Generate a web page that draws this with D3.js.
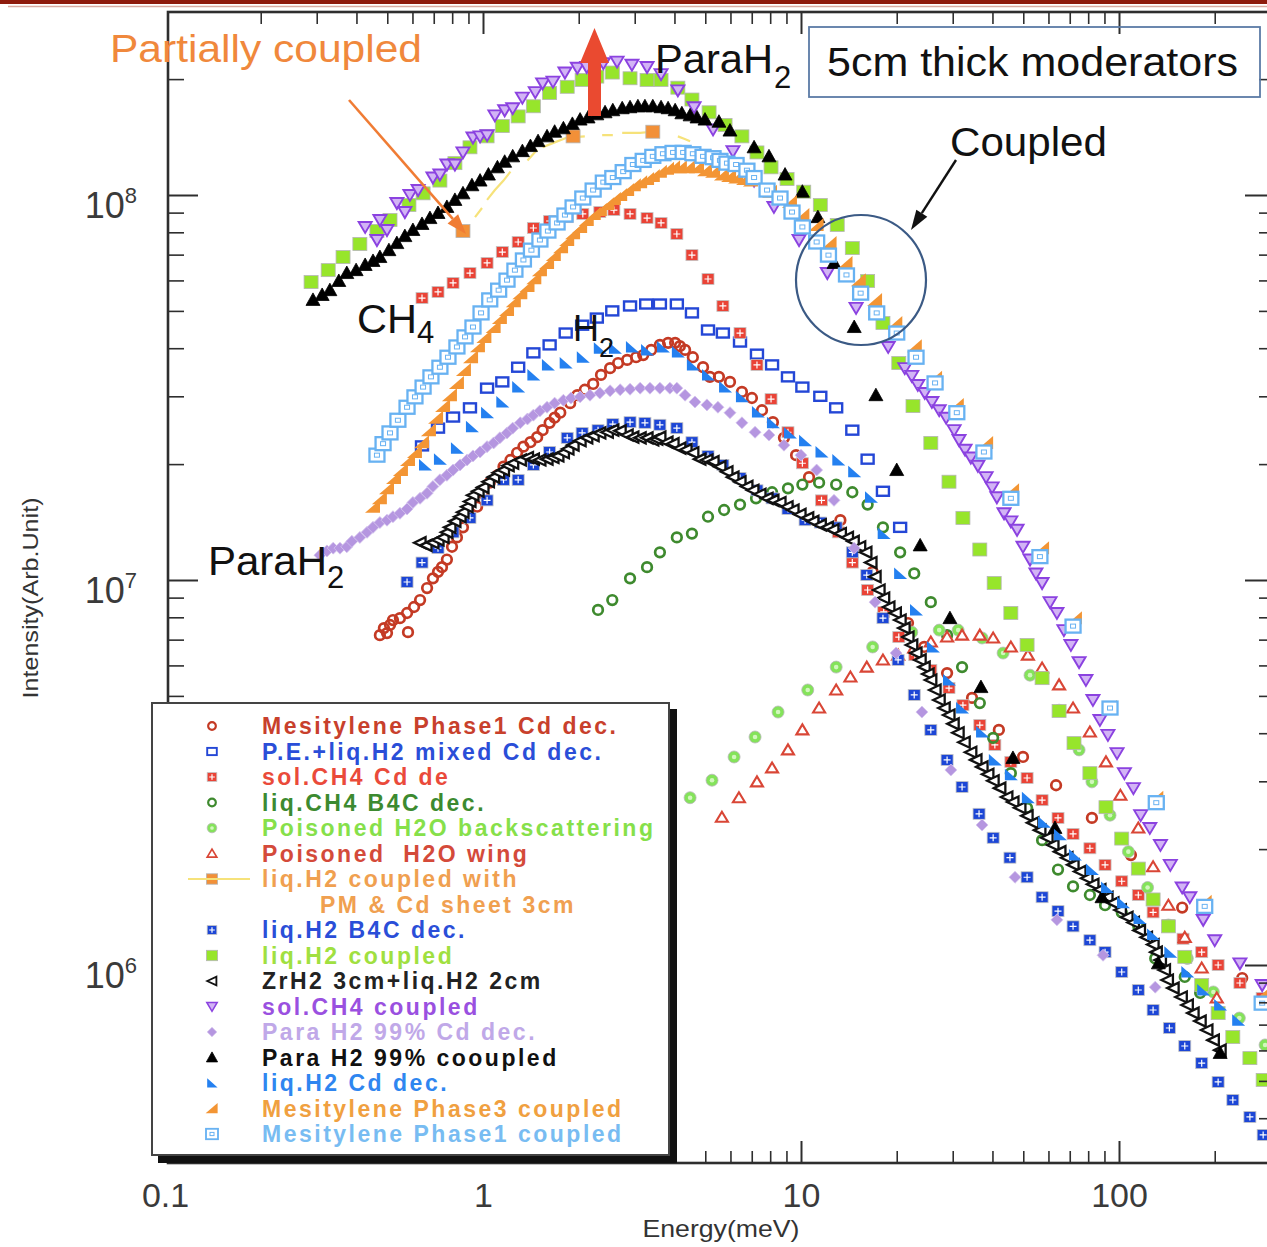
<!DOCTYPE html>
<html>
<head>
<meta charset="utf-8">
<title>Neutron spectra of 5cm thick moderators</title>
<script src="https://cdn.jsdelivr.net/npm/d3@7/dist/d3.min.js"></script>
<style>
  html, body { margin: 0; padding: 0; background: #fff; }
  svg { display: block; }
  text { font-family: "Liberation Sans", Arial, sans-serif; }
</style>
</head>
<body>
<svg id="chart" width="1267" height="1247"></svg>
<script>
// ---------------- data: [energy (meV), intensity (arb. unit)] ----------------
const mesitylenePhase1Cd = [[0.474,7.19e6],[0.488,7.50e6],[0.499,7.28e6],[0.510,7.64e6],[0.521,7.87e6],[0.548,7.96e6],[0.577,8.21e6],[0.581,7.32e6],[0.607,8.51e6],[0.634,8.87e6],[0.667,9.53e6],[0.696,1.01e7],[0.722,1.05e7],[0.743,1.08e7],[0.770,1.13e7],[0.799,1.22e7],[0.828,1.29e7],[0.865,1.37e7],[0.910,1.46e7],[0.958,1.55e7],[1.00,1.68e7],[1.05,1.79e7],[1.11,1.87e7],[1.16,1.97e7],[1.22,2.05e7],[1.28,2.14e7],[1.34,2.22e7],[1.41,2.28e7],[1.48,2.35e7],[1.54,2.45e7],[1.62,2.56e7],[1.68,2.64e7],[1.75,2.72e7],[1.88,2.88e7],[1.98,3.02e7],[2.09,3.12e7],[2.22,3.23e7],[2.35,3.41e7],[2.51,3.55e7],[2.66,3.66e7],[2.84,3.73e7],[3.03,3.79e7],[3.19,3.84e7],[3.38,3.96e7],[3.60,4.08e7],[3.82,4.13e7],[4.02,4.13e7],[4.16,4.05e7],[4.32,3.96e7],[4.57,3.79e7],[4.92,3.57e7],[5.17,3.37e7],[5.52,3.37e7],[5.98,3.27e7],[6.52,3.08e7],[7.01,2.97e7],[7.54,2.76e7],[8.16,2.57e7],[8.84,2.34e7],[9.65,2.11e7],[10.6,1.85e7],[13.3,1.43e7],[16.8,1.05e7],[21.7,7.73e6],[24.4,6.70e6],[28.8,5.73e6],[34.5,4.94e6],[41.9,4.08e6],[49.9,3.47e6],[63.4,2.93e6],[82.2,2.41e6],[109,1.93e6],[158,1.41e6],[244,9.25e5]];

const peLiqH2MixedCd = [[0.643,2.23e7],[0.722,2.48e7],[0.805,2.65e7],[0.910,2.80e7],[1.03,3.15e7],[1.15,3.27e7],[1.29,3.57e7],[1.44,3.89e7],[1.62,4.08e7],[1.82,4.38e7],[2.05,4.59e7],[2.28,4.79e7],[2.55,5.00e7],[2.90,5.15e7],[3.26,5.21e7],[3.60,5.21e7],[4.07,5.21e7],[4.54,4.94e7],[5.10,4.46e7],[5.68,4.38e7],[6.43,4.15e7],[7.27,3.86e7],[8.11,3.62e7],[9.10,3.37e7],[10.1,3.17e7],[11.5,3.00e7],[12.9,2.80e7],[14.5,2.45e7],[16.2,2.06e7],[18.1,1.70e7],[20.5,1.37e7]];

const solCH4Cd = [[0.643,5.40e7],[0.722,5.60e7],[0.805,5.91e7],[0.910,6.27e7],[1.03,6.66e7],[1.15,7.11e7],[1.29,7.55e7],[1.44,8.21e7],[1.62,8.56e7],[1.84,8.76e7],[2.06,8.93e7],[2.33,9.03e7],[2.58,9.14e7],[2.90,8.93e7],[3.28,8.71e7],[3.63,8.46e7],[4.07,7.92e7],[4.54,6.98e7],[5.10,6.05e7],[5.68,5.15e7],[6.43,4.38e7],[7.27,3.62e7],[8.05,2.95e7],[9.10,2.42e7],[10.1,2.01e7],[11.6,1.61e7],[13.1,1.33e7],[14.5,1.11e7],[16.2,9.42e6],[18.2,8.26e6],[20.3,7.11e6],[22.8,6.38e6],[25.6,5.84e6],[29.2,5.24e6],[32.3,4.73e6],[36.5,4.20e6],[40.7,3.73e6],[45.7,3.37e6],[51.4,3.06e6],[57.3,2.68e6],[64.3,2.41e6],[71.7,2.19e6],[81.0,2.01e6],[90.4,1.82e6],[102,1.65e6],[115,1.52e6],[128,1.37e6],[143,1.27e6],[159,1.17e6],[182,1.08e6],[205,1.00e6],[240,8.98e5],[282,8.21e5]];

const liqCH4B4C = [[2.30,8.36e6],[2.55,8.87e6],[2.90,1.01e7],[3.28,1.08e7],[3.60,1.18e7],[4.07,1.29e7],[4.54,1.32e7],[5.10,1.46e7],[5.73,1.52e7],[6.43,1.57e7],[7.22,1.63e7],[8.11,1.69e7],[9.10,1.73e7],[10.1,1.77e7],[11.4,1.79e7],[12.9,1.77e7],[14.5,1.69e7],[16.2,1.57e7],[18.1,1.37e7],[20.5,1.18e7],[22.7,1.04e7],[25.6,8.76e6],[28.8,7.19e6],[32.1,5.94e6],[36.5,4.79e6],[40.2,3.89e6],[45.7,3.15e6],[51.4,2.56e6],[57.3,2.11e6],[64.3,1.77e6],[71.7,1.60e6],[81.0,1.52e6],[90.4,1.43e6],[102,1.37e6],[115,1.26e6],[130,1.04e6],[161,9.31e5],[180,8.46e5]];

const poisonedH2OBack = [[4.48,2.72e6],[5.25,3.02e6],[6.16,3.47e6],[7.17,3.91e6],[8.47,4.54e6],[10.5,5.18e6],[12.9,5.94e6],[16.8,6.70e6],[22.3,7.32e6],[27.2,7.41e6],[31.2,7.41e6],[37.1,7.07e6],[43.2,6.46e6],[52.5,5.66e6],[64.8,4.59e6],[74.9,3.62e6],[82.2,2.99e6],[93.7,2.45e6],[107,1.97e6],[123,1.59e6],[143,1.27e6],[164,1.04e6],[198,8.51e5],[239,7.28e5],[288,6.20e5]];

const poisonedH2OWing = [[5.64,2.42e6],[6.38,2.72e6],[7.27,2.99e6],[8.11,3.25e6],[9.10,3.62e6],[10.1,4.08e6],[11.4,4.65e6],[12.9,5.18e6],[14.3,5.60e6],[16.1,5.94e6],[18.1,6.20e6],[20.2,6.38e6],[22.7,6.66e6],[25.6,6.90e6],[28.8,7.11e6],[32.1,7.19e6],[36.5,7.19e6],[40.2,7.07e6],[45.7,6.70e6],[51.7,6.38e6],[57.3,5.91e6],[64.8,5.34e6],[71.7,4.65e6],[81.0,4.03e6],[91.0,3.37e6],[101,2.76e6],[115,2.27e6],[128,1.80e6],[143,1.43e6],[161,1.18e6],[182,9.82e5],[203,8.21e5]];

// liq.H2 coupled with PM & Cd sheet: marked points and the (broken) trace
const liqH2PMCdPoints = [[0.865,8.06e7],[1.92,1.42e8],[3.42,1.46e8]];
const liqH2PMCdTrace = [[0.944,8.76e7],[0.993,9.25e7],null,[1.03,9.71e7],[1.09,1.03e8],[1.16,1.09e8],[1.22,1.15e8],null,[1.38,1.23e8],[1.48,1.31e8],null,[1.54,1.33e8],[1.68,1.37e8],[1.84,1.41e8],[2.09,1.42e8],null,[2.37,1.43e8],[2.56,1.43e8],null,[2.74,1.45e8],[3.12,1.45e8],[3.40,1.46e8],null,[4.10,1.42e8],[4.29,1.40e8],[4.48,1.38e8]];

const liqH2B4C = [[0.577,9.88e6],[0.643,1.11e7],[0.722,1.21e7],[0.805,1.33e7],[0.910,1.45e7],[1.03,1.61e7],[1.16,1.82e7],[1.29,1.82e7],[1.44,1.99e7],[1.62,2.15e7],[1.84,2.34e7],[2.05,2.41e7],[2.30,2.45e7],[2.56,2.54e7],[2.90,2.57e7],[3.23,2.56e7],[3.60,2.53e7],[4.07,2.48e7],[4.54,2.28e7],[5.10,2.10e7],[5.68,1.99e7],[6.43,1.84e7],[7.27,1.71e7],[8.11,1.63e7],[9.10,1.53e7],[10.3,1.43e7],[11.5,1.41e7],[12.9,1.37e7],[14.5,1.18e7],[16.1,1.03e7],[18.1,7.96e6],[20.2,6.20e6],[22.7,5.03e6],[25.6,4.08e6],[28.8,3.41e6],[32.1,2.90e6],[36.3,2.47e6],[40.2,2.14e6],[45.4,1.90e6],[51.4,1.69e6],[57.3,1.50e6],[64.3,1.38e6],[71.7,1.26e6],[81.0,1.16e6],[90.4,1.08e6],[102,9.59e5],[115,8.61e5],[128,7.64e5],[144,6.86e5],[161,6.16e5],[182,5.56e5],[205,4.97e5],[228,4.46e5],[258,4.03e5],[284,3.62e5]];

const liqH2Coupled = [[0.288,5.94e7],[0.326,6.38e7],[0.363,6.90e7],[0.410,7.46e7],[0.464,8.06e7],[0.510,8.61e7],[0.585,9.42e7],[0.648,1.01e8],[0.732,1.09e8],[0.816,1.21e8],[0.910,1.33e8],[1.03,1.42e8],[1.15,1.51e8],[1.29,1.60e8],[1.44,1.70e8],[1.62,1.84e8],[1.84,1.91e8],[2.05,1.99e8],[2.28,2.03e8],[2.55,2.08e8],[2.90,2.01e8],[3.28,1.99e8],[3.63,1.99e8],[4.10,1.90e8],[4.54,1.77e8],[5.14,1.64e8],[5.77,1.52e8],[6.52,1.42e8],[7.27,1.29e8],[8.05,1.18e8],[9.04,1.10e8],[10.2,1.02e8],[11.5,9.42e7],[13.0,8.36e7],[14.5,7.28e7],[16.2,5.98e7],[18.1,4.65e7],[20.3,3.66e7],[22.5,2.83e7],[25.6,2.27e7],[29.2,1.80e7],[32.3,1.45e7],[36.5,1.20e7],[40.5,9.82e6],[45.7,8.21e6],[51.4,6.78e6],[57.3,5.56e6],[64.8,4.57e6],[72.2,3.77e6],[81.0,3.15e6],[91.0,2.57e6],[102,2.13e6],[115,1.78e6],[128,1.48e6],[143,1.26e6],[161,1.05e6],[182,8.87e5],[205,7.50e5],[228,6.50e5],[258,5.73e5],[284,5.03e5]];

const zrH2LiqH2 = [[0.634,1.25e7],[0.662,1.23e7],[0.696,1.25e7],[0.722,1.27e7],[0.749,1.29e7],[0.770,1.33e7],[0.787,1.37e7],[0.816,1.42e7],[0.847,1.46e7],[0.865,1.50e7],[0.891,1.55e7],[0.910,1.60e7],[0.930,1.66e7],[0.965,1.70e7],[1.00,1.74e7],[1.04,1.80e7],[1.08,1.85e7],[1.12,1.90e7],[1.16,1.93e7],[1.20,1.98e7],[1.24,2.01e7],[1.31,2.05e7],[1.38,2.08e7],[1.44,2.06e7],[1.51,2.05e7],[1.59,2.06e7],[1.66,2.08e7],[1.72,2.10e7],[1.79,2.14e7],[1.85,2.19e7],[1.92,2.24e7],[2.02,2.30e7],[2.12,2.34e7],[2.22,2.37e7],[2.33,2.41e7],[2.46,2.42e7],[2.56,2.45e7],[2.70,2.44e7],[2.84,2.38e7],[2.96,2.35e7],[3.12,2.34e7],[3.28,2.34e7],[3.42,2.31e7],[3.52,2.32e7],[3.60,2.35e7],[3.79,2.28e7],[3.96,2.26e7],[4.16,2.20e7],[4.35,2.18e7],[4.57,2.14e7],[4.81,2.06e7],[5.06,2.05e7],[5.29,2.03e7],[5.56,1.97e7],[5.85,1.91e7],[6.11,1.85e7],[6.43,1.80e7],[6.76,1.75e7],[7.06,1.71e7],[7.43,1.67e7],[7.82,1.63e7],[8.16,1.61e7],[8.59,1.59e7],[9.04,1.55e7],[9.44,1.52e7],[9.93,1.48e7],[10.5,1.45e7],[10.9,1.42e7],[11.5,1.39e7],[12.1,1.37e7],[12.6,1.35e7],[13.3,1.32e7],[14.0,1.29e7],[14.6,1.26e7],[15.3,1.22e7],[16.0,1.18e7],[16.6,1.11e7],[17.1,1.02e7],[17.6,9.42e6],[18.2,8.98e6],[18.9,8.51e6],[19.8,8.21e6],[20.5,7.87e6],[21.1,7.50e6],[21.7,7.11e6],[22.3,6.78e6],[23.0,6.46e6],[23.7,6.20e6],[24.4,5.94e6],[25.1,5.70e6],[25.6,5.50e6],[26.4,5.18e6],[27.2,4.88e6],[28.2,4.65e6],[29.2,4.46e6],[30.1,4.23e6],[31.2,4.01e6],[32.6,3.79e6],[34.2,3.57e6],[35.5,3.41e6],[37.1,3.27e6],[38.7,3.13e6],[40.2,3.01e6],[42.2,2.88e6],[44.4,2.73e6],[46.4,2.65e6],[48.8,2.56e6],[51.4,2.44e6],[53.6,2.34e6],[56.4,2.24e6],[59.4,2.14e6],[62.0,2.05e6],[65.2,1.97e6],[68.6,1.90e6],[71.7,1.82e6],[75.4,1.75e6],[79.3,1.68e6],[82.8,1.62e6],[87.1,1.57e6],[91.7,1.50e6],[95.7,1.45e6],[101,1.39e6],[106,1.33e6],[111,1.29e6],[116,1.23e6],[122,1.18e6],[128,1.13e6],[131,1.08e6],[135,1.03e6],[139,9.71e5],[142,9.14e5],[148,8.71e5],[157,8.26e5],[164,7.87e5],[171,7.50e5],[180,7.15e5],[189,6.78e5],[198,6.38e5],[208,6.01e5]];

const solCH4Coupled = [[0.426,8.26e7],[0.464,7.64e7],[0.474,8.61e7],[0.499,8.11e7],[0.536,9.53e7],[0.568,9.03e7],[0.589,1.00e8],[0.625,1.03e8],[0.696,1.11e8],[0.732,1.13e8],[0.770,1.20e8],[0.816,1.20e8],[0.865,1.29e8],[0.930,1.41e8],[0.979,1.42e8],[1.03,1.43e8],[1.09,1.61e8],[1.17,1.66e8],[1.24,1.68e8],[1.33,1.79e8],[1.46,1.85e8],[1.54,1.95e8],[1.66,1.97e8],[1.81,2.08e8],[1.98,2.14e8],[2.12,2.15e8],[2.39,2.20e8],[2.64,2.22e8],[2.94,2.18e8],[3.28,2.15e8],[3.63,2.06e8],[4.10,1.87e8],[4.61,1.69e8],[5.29,1.48e8],[6.11,1.30e8],[7.12,1.09e8],[8.22,9.31e7],[9.86,7.64e7],[12.1,6.27e7],[14.9,5.09e7],[18.8,4.03e7],[21.2,3.55e7],[22.3,3.39e7],[23.3,3.21e7],[24.5,3.06e7],[25.8,2.90e7],[27.2,2.76e7],[28.6,2.64e7],[30.3,2.45e7],[31.4,2.31e7],[32.8,2.18e7],[34.2,2.08e7],[36.0,1.98e7],[38.2,1.85e7],[39.9,1.74e7],[41.3,1.64e7],[43.5,1.49e7],[45.7,1.42e7],[47.8,1.35e7],[49.9,1.22e7],[52.5,1.13e7],[54.8,1.04e7],[57.3,9.82e6],[60.7,8.76e6],[63.8,8.21e6],[67.1,7.41e6],[70.6,6.78e6],[74.9,6.12e6],[78.7,5.50e6],[82.8,4.88e6],[87.1,4.33e6],[92.3,3.96e6],[98.6,3.55e6],[104,3.15e6],[111,2.88e6],[117,2.45e6],[125,2.27e6],[135,2.05e6],[145,1.82e6],[158,1.59e6],[167,1.50e6],[184,1.31e6],[200,1.16e6],[240,1.01e6],[282,8.87e5]];

const paraH2Cd = [[0.307,1.16e7],[0.323,1.19e7],[0.338,1.21e7],[0.355,1.21e7],[0.373,1.22e7],[0.387,1.26e7],[0.410,1.29e7],[0.432,1.33e7],[0.451,1.37e7],[0.474,1.41e7],[0.499,1.43e7],[0.521,1.46e7],[0.548,1.49e7],[0.577,1.53e7],[0.602,1.59e7],[0.634,1.63e7],[0.667,1.68e7],[0.696,1.75e7],[0.732,1.82e7],[0.770,1.87e7],[0.805,1.93e7],[0.847,1.99e7],[0.891,2.05e7],[0.930,2.10e7],[0.979,2.15e7],[1.03,2.22e7],[1.08,2.27e7],[1.13,2.34e7],[1.19,2.41e7],[1.24,2.48e7],[1.31,2.56e7],[1.38,2.62e7],[1.44,2.68e7],[1.51,2.75e7],[1.59,2.81e7],[1.68,2.88e7],[1.79,2.93e7],[1.89,2.97e7],[2.02,2.99e7],[2.17,3.02e7],[2.33,3.06e7],[2.51,3.10e7],[2.70,3.12e7],[2.90,3.13e7],[3.12,3.15e7],[3.35,3.15e7],[3.60,3.15e7],[3.87,3.15e7],[4.07,3.15e7],[4.32,3.02e7],[4.64,2.90e7],[5.06,2.85e7],[5.48,2.81e7],[5.98,2.72e7],[6.52,2.56e7],[7.17,2.42e7],[7.93,2.38e7],[8.84,2.24e7],[10.0,2.11e7],[11.2,1.93e7],[12.7,1.61e7],[14.7,1.21e7],[17.1,8.76e6],[19.9,6.46e6],[24.0,4.54e6],[29.6,3.21e6],[37.1,2.31e6],[47.1,1.69e6],[63.8,1.31e6],[89.1,1.06e6],[130,8.76e5]];

const paraH2Coupled = [[0.292,5.34e7],[0.312,5.50e7],[0.330,5.66e7],[0.352,5.98e7],[0.373,6.27e7],[0.399,6.38e7],[0.426,6.58e7],[0.451,6.74e7],[0.474,6.90e7],[0.506,7.19e7],[0.536,7.50e7],[0.568,7.82e7],[0.602,8.11e7],[0.643,8.41e7],[0.681,8.71e7],[0.722,8.98e7],[0.770,9.31e7],[0.816,9.71e7],[0.865,1.01e8],[0.923,1.06e8],[0.979,1.09e8],[1.04,1.13e8],[1.11,1.18e8],[1.17,1.22e8],[1.24,1.26e8],[1.33,1.30e8],[1.41,1.34e8],[1.49,1.38e8],[1.59,1.42e8],[1.68,1.46e8],[1.79,1.49e8],[1.91,1.53e8],[2.02,1.57e8],[2.14,1.59e8],[2.28,1.62e8],[2.42,1.64e8],[2.56,1.66e8],[2.74,1.68e8],[2.90,1.69e8],[3.07,1.70e8],[3.23,1.70e8],[3.42,1.70e8],[3.63,1.69e8],[3.82,1.68e8],[4.02,1.66e8],[4.22,1.63e8],[4.48,1.61e8],[4.71,1.59e8],[4.99,1.57e8],[5.52,1.55e8],[5.98,1.47e8],[7.12,1.33e8],[7.93,1.26e8],[8.91,1.13e8],[10.1,1.02e8],[11.3,8.76e7],[12.7,6.66e7],[14.7,4.54e7],[17.2,3.02e7],[20.0,1.93e7],[23.7,1.23e7],[29.4,7.96e6],[36.8,5.27e6],[46.4,3.45e6],[62.9,2.27e6],[88.4,1.50e6],[133,1.01e6],[208,5.91e5]];

const liqH2Cd = [[0.657,1.99e7],[0.732,2.06e7],[0.828,2.20e7],[0.923,2.50e7],[1.03,2.72e7],[1.15,2.90e7],[1.29,3.17e7],[1.44,3.41e7],[1.60,3.62e7],[1.82,3.66e7],[2.06,3.79e7],[2.33,4.00e7],[2.60,4.00e7],[2.94,4.03e7],[3.28,3.96e7],[3.68,4.03e7],[4.10,3.91e7],[4.57,3.62e7],[5.10,3.41e7],[5.77,3.17e7],[6.52,2.99e7],[7.32,2.73e7],[8.16,2.56e7],[9.23,2.41e7],[10.3,2.30e7],[11.6,2.15e7],[13.1,2.05e7],[14.7,1.91e7],[16.6,1.64e7],[18.2,1.32e7],[20.5,1.04e7],[23.0,8.36e6],[26.0,6.70e6],[29.2,5.50e6],[32.1,4.65e6],[37.1,4.03e6],[40.7,3.41e6],[45.7,3.12e6],[51.7,2.72e6],[58.1,2.35e6],[65.2,2.18e6],[72.7,1.93e6],[82.2,1.77e6],[91.7,1.59e6],[103,1.45e6],[116,1.32e6],[128,1.20e6],[145,1.08e6],[164,9.59e5],[184,8.61e5],[208,7.87e5],[237,7.19e5]];

const mesitylenePhase3Coupled = [[0.451,1.55e7],[0.474,1.63e7],[0.499,1.73e7],[0.525,1.84e7],[0.552,1.93e7],[0.581,2.05e7],[0.611,2.15e7],[0.643,2.28e7],[0.676,2.45e7],[0.712,2.64e7],[0.749,2.83e7],[0.787,3.02e7],[0.828,3.25e7],[0.871,3.51e7],[0.917,3.79e7],[0.964,4.05e7],[1.01,4.28e7],[1.08,4.54e7],[1.13,4.79e7],[1.19,5.03e7],[1.25,5.30e7],[1.31,5.56e7],[1.38,5.80e7],[1.45,6.08e7],[1.51,6.38e7],[1.59,6.66e7],[1.67,6.98e7],[1.76,7.32e7],[1.84,7.64e7],[1.92,7.96e7],[2.02,8.26e7],[2.12,8.61e7],[2.23,8.93e7],[2.33,9.14e7],[2.46,9.48e7],[2.58,9.76e7],[2.70,1.00e8],[2.84,1.03e8],[2.98,1.06e8],[3.12,1.08e8],[3.28,1.10e8],[3.42,1.12e8],[3.60,1.15e8],[3.79,1.17e8],[3.96,1.18e8],[4.16,1.18e8],[4.41,1.18e8],[4.71,1.18e8],[4.99,1.16e8],[5.29,1.15e8],[5.64,1.13e8],[5.94,1.12e8],[6.25,1.11e8],[6.62,1.10e8],[6.96,1.09e8],[7.99,1.02e8],[9.23,9.59e7],[10.1,8.87e7],[11.2,8.36e7],[12.3,7.50e7],[13.8,6.66e7],[15.2,6.01e7],[17.1,5.34e7],[19.8,4.65e7],[22.8,4.05e7],[26.4,3.35e7],[30.9,2.85e7],[38.2,2.27e7],[46.1,1.71e7],[57.3,1.21e7],[72.7,7.96e6],[93.7,4.68e6],[131,2.72e6],[186,1.46e6],[282,8.36e5]];

const mesitylenePhase1Coupled = [[0.464,2.11e7],[0.485,2.26e7],[0.510,2.41e7],[0.540,2.60e7],[0.577,2.81e7],[0.611,2.99e7],[0.648,3.17e7],[0.686,3.37e7],[0.732,3.57e7],[0.776,3.79e7],[0.828,4.03e7],[0.878,4.28e7],[0.930,4.54e7],[0.986,4.94e7],[1.05,5.34e7],[1.12,5.66e7],[1.19,6.01e7],[1.26,6.38e7],[1.34,6.78e7],[1.42,7.19e7],[1.51,7.64e7],[1.60,8.06e7],[1.71,8.46e7],[1.81,8.87e7],[1.92,9.31e7],[2.06,9.82e7],[2.22,1.03e8],[2.39,1.08e8],[2.56,1.11e8],[2.76,1.15e8],[2.96,1.20e8],[3.19,1.23e8],[3.42,1.26e8],[3.68,1.28e8],[3.96,1.29e8],[4.26,1.29e8],[4.57,1.28e8],[4.92,1.26e8],[5.29,1.25e8],[5.56,1.23e8],[5.85,1.21e8],[6.25,1.20e8],[6.76,1.16e8],[7.12,1.11e8],[7.82,1.03e8],[8.59,9.82e7],[9.37,9.03e7],[10.1,8.26e7],[11.2,7.55e7],[12.2,6.98e7],[13.9,6.20e7],[15.4,5.56e7],[17.3,4.94e7],[20.0,4.38e7],[23.0,3.79e7],[26.4,3.25e7],[30.9,2.72e7],[37.6,2.15e7],[45.7,1.63e7],[56.4,1.15e7],[71.7,7.59e6],[93.7,4.65e6],[131,2.64e6],[186,1.42e6],[282,7.96e5]];

// ---------------- legend / styling tables ----------------
const legendLabels = [
  "Mesitylene Phase1 Cd dec.",
  "P.E.+liq.H2 mixed Cd dec.",
  "sol.CH4 Cd de",
  "liq.CH4 B4C dec.",
  "Poisoned H2O backscattering",
  "Poisoned  H2O wing",
  "liq.H2 coupled with",
  "liq.H2 B4C dec.",
  "liq.H2 coupled",
  "ZrH2 3cm+liq.H2 2cm",
  "sol.CH4 coupled",
  "Para H2 99% Cd dec.",
  "Para H2 99% cooupled",
  "liq.H2 Cd dec.",
  "Mesitylene Phase3 coupled",
  "Mesitylene Phase1 coupled"
];
const legendSecondLine = "PM & Cd sheet 3cm";
const markerShapes = ["ring","openSquare","gridSquare","ring","dot","openTriangle","square","gridSquare","square","leftTriangle","downTriangle","diamond","upTriangle","wedgeLeft","wedgeRight","doubleSquare"];
const markerColors = ["#c43a24","#2447d6","#ea4336","#3e8a2e","#84e35a","#d94636","#f29038","#1c46d6","#97e52b","#111111","#8b42e0","#b596e0","#000000","#2480f0","#f39534","#68b2f2"];
const labelColors  = ["#c8402c","#2a4ed8","#ea4a3a","#3c8a30","#86e04a","#d44a3a","#f0a050","#2a4ed8","#a0e040","#222222","#9a50e0","#c0a8e8","#111111","#2f86f0","#f0a040","#78bcf2"];
const traceColor = "#f6e27a";
const seriesData = [mesitylenePhase1Cd, peLiqH2MixedCd, solCH4Cd, liqCH4B4C, poisonedH2OBack, poisonedH2OWing, liqH2PMCdPoints, liqH2B4C, liqH2Coupled, zrH2LiqH2, solCH4Coupled, paraH2Cd, paraH2Coupled, liqH2Cd, mesitylenePhase3Coupled, mesitylenePhase1Coupled];

const xDecadeTicks = [0.1, 1, 10, 100];
const yDecadeTicks = [1e6, 1e7, 1e8];

// ---------------- layout and scales ----------------
const svg = d3.select("#chart");
const plot = { left: 168, top: 12, right: 1275, bottom: 1163 };

// log scales calibrated on the decades, then stretched to the frame
const xCal = d3.scaleLog().domain([0.1, 100]).range([165, 1119]);
const yCal = d3.scaleLog().domain([1e6, 1e8]).range([965, 195]);
const x = d3.scaleLog().domain([xCal.invert(plot.left), xCal.invert(plot.right)]).range([plot.left, plot.right]);
const y = d3.scaleLog().domain([yCal.invert(plot.bottom), yCal.invert(plot.top)]).range([plot.bottom, plot.top]);

const isDecade = v => Math.abs(Math.log10(v) - Math.round(Math.log10(v))) < 1e-6;

// ---------------- slide header bar ----------------
svg.append("rect").attr("x", 0).attr("y", 0).attr("width", 1267).attr("height", 4).attr("fill", "#8e1b0d");
svg.append("line").attr("x1", 8).attr("x2", 1267).attr("y1", 6.5).attr("y2", 6.5).attr("stroke", "#d9aca2").attr("stroke-width", 1.4);

svg.append("defs").append("clipPath").attr("id", "plotClip")
  .append("rect").attr("x", plot.left).attr("y", plot.top)
  .attr("width", plot.right - plot.left).attr("height", plot.bottom - plot.top);

// ---------------- marker glyphs ----------------
function addMarker(g, shape, color, s) {
  s = s || 1;
  switch (shape) {
    case "ring":
      g.append("circle").attr("r", 4.8 * s).attr("fill", "none").attr("stroke", color).attr("stroke-width", 2.7 * s);
      break;
    case "openSquare":
      g.append("rect").attr("x", -6 * s).attr("y", -4.5 * s).attr("width", 12 * s).attr("height", 9 * s)
        .attr("fill", "#fff").attr("stroke", color).attr("stroke-width", 2.4 * s);
      break;
    case "gridSquare":
      g.append("rect").attr("x", -6 * s).attr("y", -5.5 * s).attr("width", 12 * s).attr("height", 11 * s)
        .attr("fill", color).attr("stroke", "#c4c4c4").attr("stroke-width", 0.8);
      g.append("path").attr("d", `M0,${-3.5 * s}V${3.5 * s}M${-3.5 * s},0H${3.5 * s}`)
        .attr("stroke", "#fff").attr("stroke-width", 1.2);
      break;
    case "dot":
      g.append("circle").attr("r", 6 * s).attr("fill", color).attr("stroke", "#b8b8b8").attr("stroke-width", 0.8);
      g.append("circle").attr("r", 2.3 * s).attr("fill", "#d2f7bd");
      break;
    case "openTriangle":
      g.append("path").attr("d", `M0,${-5.5 * s}L${6 * s},${4.5 * s}L${-6 * s},${4.5 * s}Z`)
        .attr("fill", "#fff").attr("stroke", color).attr("stroke-width", 2.1 * s);
      break;
    case "square":
      g.append("rect").attr("x", -7 * s).attr("y", -6.5 * s).attr("width", 14 * s).attr("height", 13 * s)
        .attr("fill", color).attr("stroke", "#b5b5b5").attr("stroke-width", 0.8);
      break;
    case "leftTriangle":
      g.append("path").attr("d", `M${-6 * s},0L${5.5 * s},${-5.5 * s}L${5.5 * s},${5.5 * s}Z`)
        .attr("fill", "#fff").attr("stroke", color).attr("stroke-width", 2.3 * s);
      break;
    case "downTriangle":
      g.append("path").attr("d", `M${-6.5 * s},${-5 * s}L${6.5 * s},${-5 * s}L0,${6 * s}Z`)
        .attr("fill", "#d2b4f5").attr("stroke", color).attr("stroke-width", 1.9 * s);
      break;
    case "diamond":
      g.append("path").attr("d", `M0,${-6 * s}L${6 * s},0L0,${6 * s}L${-6 * s},0Z`)
        .attr("fill", color).attr("stroke", "#d4c4ee").attr("stroke-width", 0.8);
      break;
    case "upTriangle":
      g.append("path").attr("d", `M0,${-7 * s}L${7 * s},${5.5 * s}L${-7 * s},${5.5 * s}Z`)
        .attr("fill", color).attr("stroke", color).attr("stroke-width", 0.8);
      break;
    case "wedgeLeft":
      g.append("path").attr("d", `M${-6 * s},${-6 * s}L${-6 * s},${5.5 * s}L${7 * s},${5.5 * s}Z`).attr("fill", color);
      break;
    case "wedgeRight":
      g.append("path").attr("d", `M${7 * s},${-7 * s}L${7 * s},${6 * s}L${-8 * s},${6 * s}Z`).attr("fill", color);
      break;
    case "doubleSquare":
      g.append("rect").attr("x", -7.5 * s).attr("y", -6.5 * s).attr("width", 15 * s).attr("height", 13 * s)
        .attr("fill", "#fff").attr("stroke", color).attr("stroke-width", 2.3 * s);
      g.append("rect").attr("x", -2.5 * s).attr("y", -2 * s).attr("width", 5 * s).attr("height", 4 * s)
        .attr("fill", "none").attr("stroke", color).attr("stroke-width", 1);
      break;
  }
}

// ---------------- data layer ----------------
const dataLayer = svg.append("g").attr("clip-path", "url(#plotClip)");

seriesData.forEach((data, i) => {
  const g = dataLayer.append("g").attr("class", "series-" + i);
  if (i === 6) {
    const line = d3.line().defined(d => d !== null).x(d => x(d[0])).y(d => y(d[1]));
    g.append("path").datum(liqH2PMCdTrace).attr("d", line)
      .attr("fill", "none").attr("stroke", traceColor).attr("stroke-width", 2.2);
  }
  g.selectAll("g.pt").data(data).join("g").attr("class", "pt")
    .attr("transform", d => `translate(${x(d[0])},${y(d[1])})`)
    .each(function () { addMarker(d3.select(this), markerShapes[i], markerColors[i]); });
});

// ---------------- frame and axes ----------------
const axisColor = "#2e2e2e";
const xAll = x.ticks();
const xMinor = xAll.filter(v => !isDecade(v));
const yAll = y.ticks();
const yMinor = yAll.filter(v => !isDecade(v));
const xTopMajor = xDecadeTicks.filter(v => x(v) >= plot.left);

function styleAxis(g, width) {
  g.select(".domain").remove();
  g.selectAll(".tick line").attr("stroke", axisColor).attr("stroke-width", width);
}

// bottom (ticks pointing inward)
svg.append("g").attr("transform", `translate(0,${plot.bottom})`)
  .call(d3.axisBottom(x).tickValues(xMinor).tickSize(-12).tickFormat(""))
  .call(g => styleAxis(g, 1.6));
const xBottomMajor = svg.append("g").attr("transform", `translate(0,${plot.bottom})`)
  .call(d3.axisBottom(x).tickValues(xDecadeTicks).tickSize(-22).tickPadding(20).tickFormat(d3.format("~g")))
  .call(g => styleAxis(g, 2));
xBottomMajor.selectAll(".tick text")
  .attr("font-size", 34).attr("fill", "#3a3a3a").attr("font-family", "Liberation Sans, Arial, sans-serif");

// top
svg.append("g").attr("transform", `translate(0,${plot.top})`)
  .call(d3.axisTop(x).tickValues(xMinor).tickSize(-12).tickFormat(""))
  .call(g => styleAxis(g, 1.6));
svg.append("g").attr("transform", `translate(0,${plot.top})`)
  .call(d3.axisTop(x).tickValues(xTopMajor).tickSize(-22).tickFormat(""))
  .call(g => styleAxis(g, 2));

// left
svg.append("g").attr("transform", `translate(${plot.left},0)`)
  .call(d3.axisLeft(y).tickValues(yMinor).tickSize(-16).tickFormat(""))
  .call(g => styleAxis(g, 1.6));
const yLeftMajor = svg.append("g").attr("transform", `translate(${plot.left},0)`)
  .call(d3.axisLeft(y).tickValues(yDecadeTicks).tickSize(-30).tickPadding(31).tickFormat(""))
  .call(g => styleAxis(g, 2));
yLeftMajor.selectAll(".tick text").each(function (d) {
  const t = d3.select(this).attr("dy", null).attr("y", 22)
    .attr("font-size", 36).attr("fill", "#3a3a3a").attr("font-family", "Liberation Sans, Arial, sans-serif");
  t.append("tspan").text("10");
  t.append("tspan").attr("font-size", 22).attr("dy", -15).text(Math.round(Math.log10(d)));
});

// right
svg.append("g").attr("transform", `translate(${plot.right},0)`)
  .call(d3.axisRight(y).tickValues(yMinor).tickSize(-16).tickFormat(""))
  .call(g => styleAxis(g, 1.6));
svg.append("g").attr("transform", `translate(${plot.right},0)`)
  .call(d3.axisRight(y).tickValues(yDecadeTicks).tickSize(-30).tickFormat(""))
  .call(g => styleAxis(g, 2));

svg.append("rect").attr("x", plot.left).attr("y", plot.top)
  .attr("width", plot.right - plot.left).attr("height", plot.bottom - plot.top)
  .attr("fill", "none").attr("stroke", axisColor).attr("stroke-width", 2.6);

// axis titles
svg.append("text").attr("x", 721).attr("y", 1237).attr("text-anchor", "middle")
  .attr("font-size", 24).attr("fill", "#333").attr("textLength", 157).attr("lengthAdjust", "spacingAndGlyphs")
  .text("Energy(meV)");
svg.append("text").attr("transform", "translate(38,598) rotate(-90)").attr("text-anchor", "middle")
  .attr("font-size", 22).attr("fill", "#333").attr("textLength", 201).attr("lengthAdjust", "spacingAndGlyphs")
  .text("Intensity(Arb.Unit)");

// ---------------- annotations ----------------
const notes = svg.append("g");

function arrow(g, x1, y1, x2, y2, color, w, headLen, headW) {
  const a = Math.atan2(y2 - y1, x2 - x1);
  const bx = x2 - headLen * Math.cos(a), by = y2 - headLen * Math.sin(a);
  g.append("line").attr("x1", x1).attr("y1", y1).attr("x2", bx).attr("y2", by)
    .attr("stroke", color).attr("stroke-width", w);
  const px = -Math.sin(a) * headW / 2, py = Math.cos(a) * headW / 2;
  g.append("path").attr("d", `M${x2},${y2}L${bx + px},${by + py}L${bx - px},${by - py}Z`).attr("fill", color);
}

function label(g, txt, xPos, yPos, size, len, color) {
  const t = g.append("text").attr("x", xPos).attr("y", yPos).attr("font-size", size).attr("fill", color || "#111").text(txt);
  if (len) t.attr("textLength", len).attr("lengthAdjust", "spacingAndGlyphs");
  return t;
}

label(notes, "Partially coupled", 110, 62, 38, 312, "#f0883c");
arrow(notes, 349, 100, 466, 234, "#f07c34", 2.6, 20, 14);

notes.append("path").attr("d", "M588,116L601,116L601,63L609,63L594.5,28L580,63L588,63Z").attr("fill", "#ea4a30");

label(notes, "ParaH", 655, 73, 40, 118);
label(notes, "2", 774, 88, 31);

notes.append("rect").attr("x", 809).attr("y", 27).attr("width", 451).attr("height", 70)
  .attr("fill", "none").attr("stroke", "#5b7ba6").attr("stroke-width", 1.8);
label(notes, "5cm thick moderators", 827, 76, 40, 411);

label(notes, "Coupled", 950, 156, 40, 157);
arrow(notes, 956, 160, 911, 230, "#111", 2.4, 20, 13);
notes.append("circle").attr("cx", 861).attr("cy", 280).attr("r", 65)
  .attr("fill", "none").attr("stroke", "#3b5a85").attr("stroke-width", 2.2);

label(notes, "CH", 357, 333, 40, 60);
label(notes, "4", 417, 343, 31);
label(notes, "H", 573, 341, 36);
label(notes, "2", 599, 357, 27);
label(notes, "ParaH", 208, 575, 41, 119);
label(notes, "2", 327, 588, 31);

// ---------------- legend ----------------
const legend = svg.append("g");
legend.append("rect").attr("x", 158).attr("y", 709).attr("width", 519).attr("height", 454).attr("fill", "#111");
legend.append("rect").attr("x", 152).attr("y", 703).attr("width", 517).attr("height", 452)
  .attr("fill", "#fff").attr("stroke", "#444").attr("stroke-width", 2);

const rowY = i => 726 + (i < 7 ? i : i + 1) * 25.5;
legendLabels.forEach((name, i) => {
  const cy = rowY(i);
  const mg = legend.append("g").attr("transform", `translate(212,${cy})`);
  if (i === 6) {
    legend.append("line").attr("x1", 188).attr("x2", 250).attr("y1", cy).attr("y2", cy)
      .attr("stroke", traceColor).attr("stroke-width", 2.2);
  }
  addMarker(mg, markerShapes[i], markerColors[i], 0.8);
  legend.append("text").attr("x", 262).attr("y", cy + 8)
    .attr("font-size", 23).attr("font-weight", "bold").attr("letter-spacing", 2.5)
    .style("white-space", "pre").attr("fill", labelColors[i]).text(name);
  if (i === 6) {
    legend.append("text").attr("x", 320).attr("y", cy + 25.5 + 8)
      .attr("font-size", 23).attr("font-weight", "bold").attr("letter-spacing", 2.5)
      .attr("fill", labelColors[i]).text(legendSecondLine);
  }
});
</script>
</body>
</html>
